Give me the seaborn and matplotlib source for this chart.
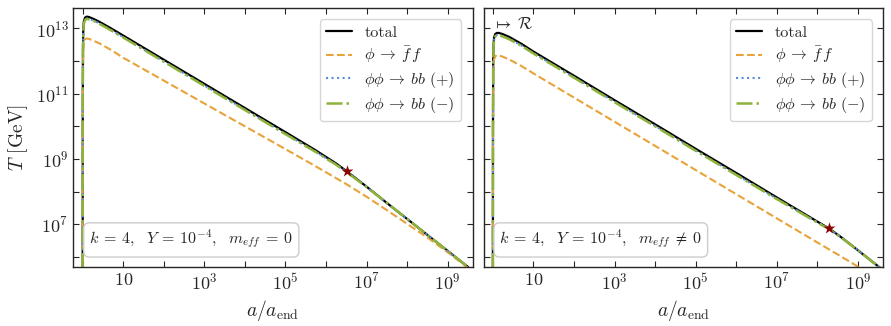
import numpy as np
import matplotlib
matplotlib.use("Agg")
import matplotlib.pyplot as plt
import matplotlib.ticker as mticker
import seaborn as sns

# values, stored as log10(a/a_end) and log10(T/GeV)
log_a_left = [0.0, 0.003, 0.008, 0.015, 0.03, 0.06, 0.1, 0.15, 0.25, 0.4, 0.7, 1, 2, 3, 4, 5, 5.75, 6.25, 6.5, 7, 7.5, 8, 8.5, 9, 9.5]
total_left = [4.0, 10.5, 12.4, 12.95, 13.22, 13.33, 13.36, 13.35, 13.30, 13.21, 13.0, 12.78, 12.04, 11.30, 10.56, 9.82, 9.26, 8.86, 8.63, 8.15, 7.65, 7.16, 6.67, 6.18, 5.69]
ff_left = [3.5, 9.9, 11.8, 12.35, 12.58, 12.67, 12.69, 12.68, 12.63, 12.55, 12.34, 12.10, 11.40, 10.70, 10.00, 9.30, 8.77, 8.41, 8.23, 7.84, 7.43, 7.01, 6.59, 6.14, 5.66]
bbp_left = [4.0, 10.4, 12.3, 12.88, 13.16, 13.27, 13.30, 13.29, 13.25, 13.16, 12.95, 12.73, 11.99, 11.25, 10.51, 9.77, 9.22, 8.83, 8.61, 8.14, 7.65, 7.16, 6.67, 6.18, 5.69]
bbm_left = [4.0, 10.4, 12.3, 12.87, 13.15, 13.26, 13.29, 13.28, 13.24, 13.15, 12.94, 12.72, 11.98, 11.24, 10.50, 9.76, 9.21, 8.82, 8.60, 8.14, 7.65, 7.16, 6.67, 6.18, 5.69]
star_left = (6.51, 8.62)

log_a_right = [0.0, 0.003, 0.008, 0.015, 0.03, 0.06, 0.1, 0.15, 0.25, 0.4, 0.7, 1, 2, 3, 4, 5, 6, 7, 7.5, 8, 8.3, 8.6, 9, 9.5, 9.7]
total_right = [4.0, 10.0, 11.9, 12.45, 12.72, 12.83, 12.86, 12.86, 12.82, 12.74, 12.53, 12.29, 11.55, 10.80, 10.06, 9.31, 8.57, 7.82, 7.45, 7.08, 6.86, 6.59, 6.20, 5.71, 5.51]
ff_right = [3.5, 9.4, 11.3, 11.8, 12.05, 12.15, 12.18, 12.17, 12.13, 12.05, 11.85, 11.62, 10.88, 10.14, 9.40, 8.66, 7.92, 7.18, 6.81, 6.44, 6.22, 6.00, 5.70, 5.33, 5.18]
bbp_right = [4.0, 9.9, 11.8, 12.38, 12.66, 12.77, 12.80, 12.80, 12.76, 12.68, 12.48, 12.24, 11.50, 10.75, 10.01, 9.26, 8.52, 7.78, 7.42, 7.06, 6.85, 6.58, 6.20, 5.71, 5.51]
bbm_right = [4.0, 9.9, 11.8, 12.37, 12.65, 12.76, 12.79, 12.79, 12.75, 12.67, 12.47, 12.23, 11.49, 10.74, 10.00, 9.25, 8.51, 7.77, 7.41, 7.05, 6.84, 6.58, 6.20, 5.71, 5.51]
star_right = (8.28, 6.87)

labels = ["total", r"$\phi\:\to\:\bar{f}\,f$", r"$\phi\phi\:\to\:bb\ (+)$", r"$\phi\phi\:\to\:bb\ (-)$"]
colors = ["black", "#E8A33A", "#5A8BD6", "#8DB33A"]
styles = ["-", "--", ":", "-."]
widths = [1.6, 1.5, 1.5, 1.8]

sns.set_style("ticks")
plt.rcParams.update({
    "font.family": "serif",
    "font.serif": ["cmr10"],
    "mathtext.fontset": "cm",
    "axes.formatter.use_mathtext": True,
    "axes.formatter.min_exponent": 2,
    "axes.edgecolor": "0.15",
    "axes.linewidth": 1.0,
})


def draw_panel(ax, log_a, curves, star, note):
    a = 10.0 ** np.array(log_a)
    for vals, lab, c, ls, lw in zip(curves, labels, colors, styles, widths):
        sns.lineplot(x=a, y=10.0 ** np.array(vals), ax=ax, color=c, linestyle=ls,
                     linewidth=lw, label=lab, sort=False, estimator=None)
    sns.scatterplot(x=[10.0 ** star[0]], y=[10.0 ** star[1]], ax=ax, marker="*",
                    s=80, color="#8B0000", linewidth=0, zorder=5, legend=False)
    ax.set_xscale("log")
    ax.set_yscale("log")
    ax.text(0.04, 0.06, note, transform=ax.transAxes, fontsize=11.5,
            ha="left", va="bottom",
            bbox=dict(boxstyle="round,pad=0.35", fc="white", ec="0.8"))
    ax.legend(loc="upper right", fontsize=11.5, handlelength=1.6, borderpad=0.4,
              labelspacing=0.3, handletextpad=0.8, borderaxespad=0.7, frameon=True)
    ax.xaxis.set_major_locator(mticker.FixedLocator([10.0 ** k for k in (1, 3, 5, 7, 9)]))
    ax.xaxis.set_minor_locator(mticker.FixedLocator([10.0 ** k for k in (0, 2, 4, 6, 8)]))
    ax.xaxis.set_major_formatter(mticker.LogFormatterSciNotation())
    ax.xaxis.set_minor_formatter(mticker.NullFormatter())
    ax.yaxis.set_major_locator(mticker.FixedLocator([10.0 ** k for k in (7, 9, 11, 13)]))
    ax.yaxis.set_minor_locator(mticker.FixedLocator([10.0 ** k for k in (6, 8, 10, 12)]))
    ax.yaxis.set_major_formatter(mticker.LogFormatterSciNotation())
    ax.yaxis.set_minor_formatter(mticker.NullFormatter())
    ax.tick_params(which="both", direction="in", top=True, right=True, labelsize=13)
    ax.tick_params(which="major", length=4, width=0.8)
    ax.tick_params(which="minor", length=4, width=0.8)
    ax.set_xlim(10 ** -0.23, 10 ** 9.61)
    ax.set_ylim(10 ** 5.69, 10 ** 13.62)
    ax.set_xlabel(r"$a/a_{\rm end}$", fontsize=14)


fig, axes = plt.subplots(1, 2, figsize=(8.91, 3.26), dpi=100, sharey=True)
draw_panel(axes[0], log_a_left, [total_left, ff_left, bbp_left, bbm_left], star_left,
           r"$k\:=\:4,\ \ Y\:=\:10^{-4},\ \ m_{eff}\:=\:0$")
draw_panel(axes[1], log_a_right, [total_right, ff_right, bbp_right, bbm_right], star_right,
           r"$k\:=\:4,\ \ Y\:=\:10^{-4},\ \ m_{eff}\:\neq\:0$")
axes[0].set_ylabel(r"$T$ [GeV]", fontsize=14)
axes[1].set_ylabel("")
axes[1].tick_params(labelleft=False)
axes[1].text(1.0, 10 ** 13.12, r"$\mapsto\:\mathcal{R}$", fontsize=12, ha="left", va="center")

plt.subplots_adjust(left=0.0823, right=0.9907, bottom=0.181, top=0.975, wspace=0.0276)
plt.savefig("out.png", dpi=100)
